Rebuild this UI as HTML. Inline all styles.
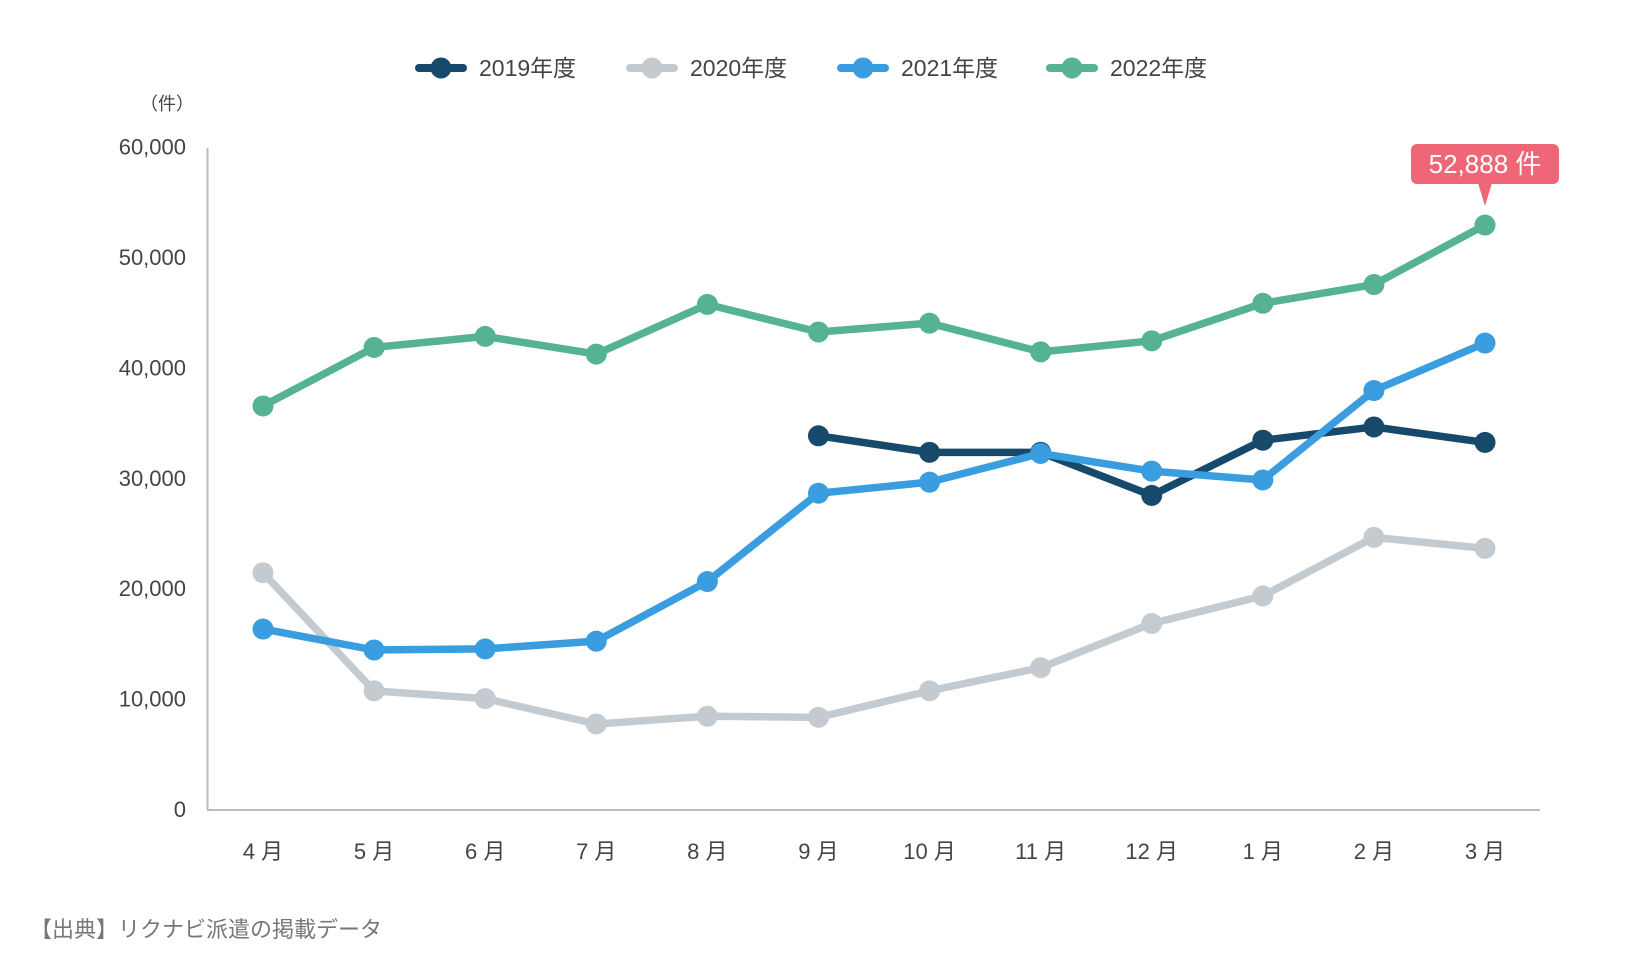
<!DOCTYPE html>
<html><head><meta charset="utf-8">
<style>
html,body{margin:0;padding:0;background:#fff;}
svg{display:block;font-family:"Liberation Sans","Noto Sans CJK JP",sans-serif;}
</style></head>
<body>
<svg id="chart" width="1640" height="960" viewBox="0 0 1640 960" xmlns="http://www.w3.org/2000/svg">
<g id="legend"></g>
<text x="167" y="110" font-size="18" fill="#444" text-anchor="middle">（件）</text>
<g id="yticks"></g>
<g id="xticks"></g>
<line x1="207.5" y1="148" x2="207.5" y2="810" stroke="#bbb" stroke-width="2"/>
<line x1="207" y1="810" x2="1540" y2="810" stroke="#bbb" stroke-width="2"/>
<g id="series"></g>
<g id="callout">
<rect x="1411" y="144" width="148" height="40" rx="6" fill="#ef6677"/>
<polygon id="callout-tip" points="1478,183 1492,183 1485,206" fill="#ef6677"/>
<text x="1485" y="173" font-size="26" fill="#fff" text-anchor="middle">52,888 件</text>
</g>
<text x="30" y="937" font-size="22" fill="#777">【出典】リクナビ派遣の掲載データ</text>
</svg>
<script>
const months = ["4 月","5 月","6 月","7 月","8 月","9 月","10 月","11 月","12 月","1 月","2 月","3 月"];
const yTicks = [0,10000,20000,30000,40000,50000,60000];
const seriesNames = ["2019年度","2020年度","2021年度","2022年度"];
const seriesColors = ["#17496b","#c4cbd0","#3a9de0","#55b394"];
const v2019 = [null,null,null,null,null,33800,32300,32300,28400,33400,34600,33200];
const v2020 = [21400,10700,10000,7700,8400,8300,10700,12800,16800,19300,24600,23600];
const v2021 = [16300,14400,14500,15200,20600,28600,29600,32200,30600,29800,37900,42200];
const v2022 = [36500,41800,42800,41200,45700,43200,44000,41400,42400,45800,47500,52888];
const seriesValues = [v2019,v2020,v2021,v2022];
const drawOrder = [3,1,0,2];

const NS="http://www.w3.org/2000/svg";
const x0=263, x1=1485, yBase=809, yTop=146.5, yMax=60000;
const xPos=i=>x0+(x1-x0)*i/(months.length-1);
const yPos=v=>yBase-(yBase-yTop)*v/yMax;
function mk(tag,attrs,parent){const e=document.createElementNS(NS,tag);for(const k in attrs)e.setAttribute(k,attrs[k]);parent.appendChild(e);return e;}

const yt=document.getElementById('yticks');
yTicks.forEach(t=>{
  const e=mk('text',{x:186,y:yPos(t)+8,'font-size':22,fill:'#444','text-anchor':'end'},yt);
  
  
  e.textContent=t.toLocaleString('en-US');
});
const xt=document.getElementById('xticks');
months.forEach((m,i)=>{
  const e=mk('text',{x:xPos(i),y:859,'font-size':22,fill:'#444','text-anchor':'middle'},xt);
  
  
  e.textContent=m;
});

const sg=document.getElementById('series');
drawOrder.forEach(s=>{
  const vals=seriesValues[s];
  const g=mk('g',{},sg);
  
  
  let d='';let started=false;
  vals.forEach((v,i)=>{if(v==null){started=false;return;}d+=(started?'L':'M')+xPos(i)+','+yPos(v)+' ';started=true;});
  const p=mk('path',{d:d,fill:'none',stroke:seriesColors[s],'stroke-width':7.5,'stroke-linejoin':'round','stroke-linecap':'round'},g);
  
  
  vals.forEach((v,i)=>{if(v==null)return;
    const c=mk('circle',{cx:xPos(i),cy:yPos(v),r:10.5,fill:seriesColors[s]},g);
    
    
  });
});

const lg=document.getElementById('legend');
const legX=[415,626,837,1046];
seriesNames.forEach((n,s)=>{
  const g=mk('g',{},lg);
  
  
  mk('line',{x1:legX[s]+4,y1:68,x2:legX[s]+48,y2:68,stroke:seriesColors[s],'stroke-width':8,'stroke-linecap':'round'},g);
  mk('circle',{cx:legX[s]+26,cy:68,r:10.5,fill:seriesColors[s]},g);
  const t=mk('text',{x:legX[s]+64,y:76,'font-size':23,fill:'#444'},g);
  t.textContent=n;
});

// callout follows the max point of 2022
const iMax=v2022.indexOf(Math.max(...v2022));
const cx=xPos(iMax), cy=yPos(v2022[iMax]);
const cg=document.getElementById('callout');
cg.setAttribute('transform','translate('+(cx-1485)+','+(cy-225)+')');
cg.querySelector('text').textContent=v2022[iMax].toLocaleString('en-US')+' 件';
</script>
</body></html>
